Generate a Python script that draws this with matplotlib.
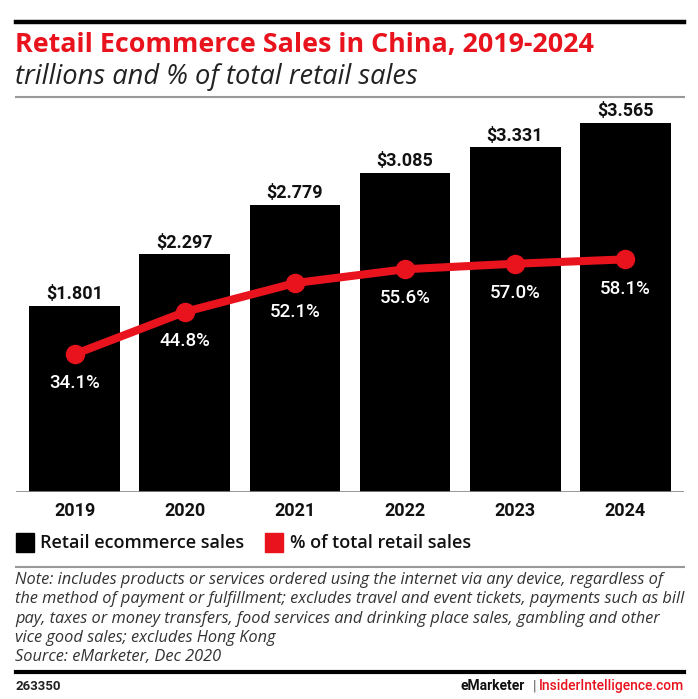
import matplotlib
matplotlib.use("Agg")
import matplotlib.pyplot as plt
from matplotlib.lines import Line2D
from matplotlib.patches import Rectangle

years = ["2019", "2020", "2021", "2022", "2023", "2024"]
sales = [1.801, 2.297, 2.779, 3.085, 3.331, 3.565]
share = [34.1, 44.8, 52.1, 55.6, 57.0, 58.1]

title = "Retail Ecommerce Sales in China, 2019-2024"
subtitle = "trillions and % of total retail sales"
note_lines = [
    "Note: includes products or services ordered using the internet via any device, regardless of",
    "the method of payment or fulfillment; excludes travel and event tickets, payments such as bill",
    "pay, taxes or money transfers, food services and drinking place sales, gambling and other",
    "vice good sales; excludes Hong Kong",
    "Source: eMarketer, Dec 2020",
]

RED = "#e8131d"
W, H = 698, 699
plt.rcParams["font.family"] = ["Roboto", "DejaVu Sans"]
TXT = ["Open Sans", "DejaVu Sans"]

fig = plt.figure(figsize=(W / 100, H / 100), dpi=100)


def fx(px):
    return px / W


def fy(py):
    return 1 - py / H


def rule(y, lw, color):
    fig.add_artist(Line2D([fx(16), fx(684)], [fy(y), fy(y)], lw=lw, color=color,
                          transform=fig.transFigure))


# header
rule(21.5, 3.2, "black")
fig.text(fx(15), fy(45), title, color=RED, fontsize=19.4, fontweight="bold",
         family=TXT, va="center")
fig.text(fx(15), fy(77), subtitle, color="#222222", fontsize=19.6, style="italic",
         family=TXT, va="center")
rule(97, 1.5, "#999999")

# chart
ax = fig.add_axes([fx(16), fy(492), fx(684) - fx(16), fy(100) - fy(492)])
x = list(range(len(years)))
bars = ax.bar(x, sales, width=0.827, color="black", zorder=2)
ax.set_xlim(-0.536, 5.536)
ax.set_ylim(0, 3.79)
ax.bar_label(bars, labels=["$%.3f" % v for v in sales], padding=2, fontsize=13,
             fontweight="bold", color="#111111")
for s in ax.spines.values():
    s.set_visible(False)
ax.axhline(0, color="#888888", lw=1.2, zorder=3)
ax.set_yticks([])
ax.set_xticks(x)
ax.set_xticklabels(years, fontsize=13, fontweight="bold", color="#111111")
ax.tick_params(axis="x", length=0, pad=7)

ax2 = ax.twinx()
ax2.set_ylim(-0.86, 98.5)
ax2.plot(x, share, color=RED, lw=5.8, marker="o", markersize=13, zorder=4,
         solid_capstyle="round")
for xi, v in zip(x, share):
    ax2.annotate("%.1f%%" % v, (xi, v), xytext=(0, -21), textcoords="offset points",
                 ha="center", va="center", color="white", fontsize=13.5,
                 fontweight="medium")
ax2.set_yticks([])
for s in ax2.spines.values():
    s.set_visible(False)

# legend
fig.add_artist(Rectangle((fx(16), fy(552)), fx(18), fy(0) - fy(19), color="black",
                         transform=fig.transFigure))
fig.text(fx(40), fy(543), "Retail ecommerce sales", fontsize=13, fontweight="semibold",
         family=TXT, color="#111111", va="center")
fig.add_artist(Rectangle((fx(265), fy(552)), fx(18), fy(0) - fy(19), color=RED,
                         transform=fig.transFigure))
fig.text(fx(290), fy(543), "% of total retail sales", fontsize=13, fontweight="semibold",
         family=TXT, color="#111111", va="center")

rule(567, 1.5, "#999999")

for i, line in enumerate(note_lines):
    fig.text(fx(15), fy(580 + i * 19.3), line, fontsize=11.8, style="italic",
             family=TXT, color="#333333", va="center")

rule(672, 3.0, "black")
fig.text(fx(16), fy(686), "263350", fontsize=9.5, fontweight="bold", color="#222222",
         va="center")
fig.text(fx(684), fy(686), "InsiderIntelligence.com", fontsize=10, fontweight="medium",
         color=RED, va="center", ha="right")
fig.text(fx(534), fy(686), "|", fontsize=10, color="#555555", va="center", ha="center")
fig.text(fx(525), fy(686), "eMarketer", fontsize=10, fontweight="bold", color="#111111",
         va="center", ha="right")

fig.savefig("out.png", dpi=100)
